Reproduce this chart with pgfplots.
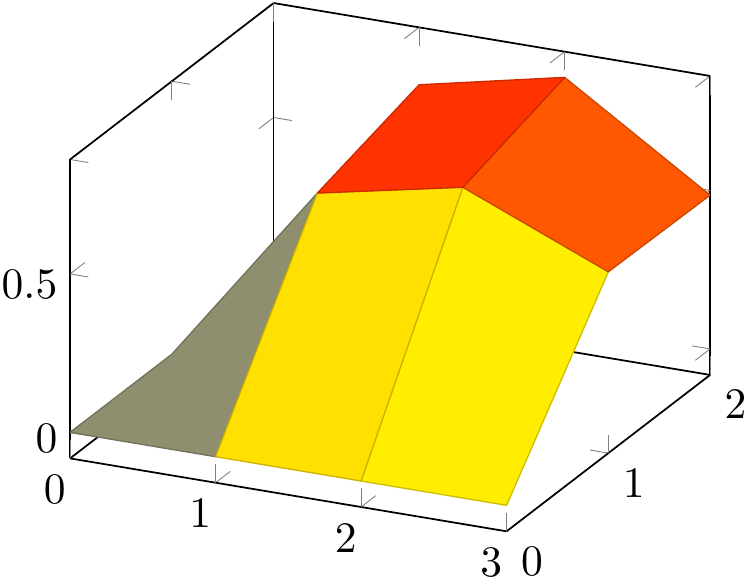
\documentclass[border=0pt]{standalone}
\usepackage{pgfplots}
\pgfplotsset{compat=1.18}
\definecolor{cgrey}{RGB}{143,143,112}
\definecolor{cgold}{RGB}{255,224,0}
\definecolor{cyel}{RGB}{255,238,0}
\definecolor{cred}{RGB}{255,51,0}
\definecolor{corange}{RGB}{255,88,0}
\begin{document}
\begin{tikzpicture}
\begin{axis}[
  view={25}{30},
  scale only axis,
  width=147.1pt,height=121.4pt,
  xmin=0,xmax=3,ymin=0,ymax=2,zmin=-0.082,zmax=0.861,
  xtick={0,1,2,3},ytick={0,1,2},ztick={0,0.5},
  z tick label style={xshift=0.6pt},
]
\addplot3[patch,patch type=rectangle,shader=faceted,mesh/color input=explicit,faceted color=mapped color!80!black,line width=0.3pt] coordinates {
  (0,0,0) [color=cgrey] (1,0,0) [color=cgrey] (1,1,0.585) [color=cgrey] (0,1,0) [color=cgrey]
  (1,0,0) [color=cgold] (2,0,0) [color=cgold] (2,1,0.68) [color=cgold] (1,1,0.585) [color=cgold]
  (2,0,0) [color=cyel] (3,0,0) [color=cyel] (3,1,0.49) [color=cyel] (2,1,0.68) [color=cyel]
  (1,1,0.585) [color=cred] (2,1,0.68) [color=cred] (2,2,0.78) [color=cred] (1,2,0.68) [color=cred]
  (2,1,0.68) [color=corange] (3,1,0.49) [color=corange] (3,2,0.485) [color=corange] (2,2,0.78) [color=corange]
};
\end{axis}
% trim the page to the ink, as the reference is
\pgfresetboundingbox
\path[use as bounding box] ([xshift=-16.1pt,yshift=-11.3pt]current axis.south west) rectangle ([xshift=8.7pt,yshift=0.7pt]current axis.north east);
\end{tikzpicture}
\end{document}
